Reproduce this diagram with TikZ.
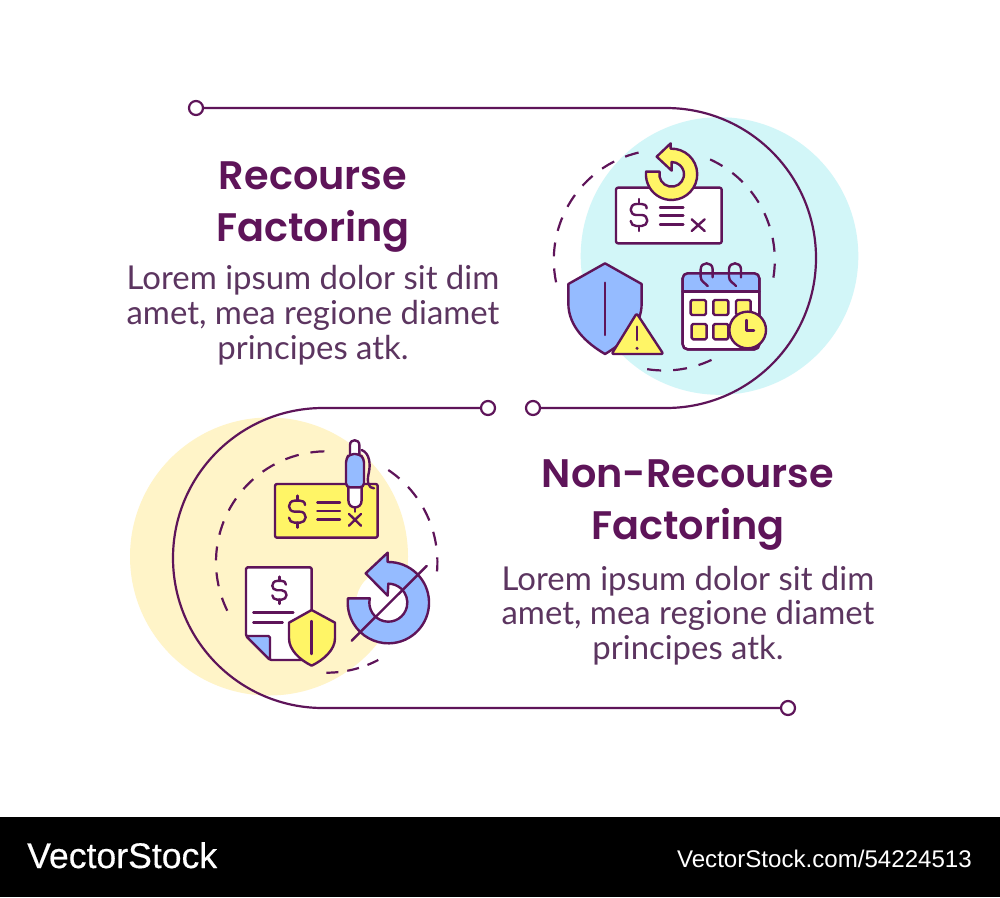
\documentclass[tikz,border=0pt]{standalone}
\usepackage{fontspec}
\usetikzlibrary{calc}
\setmainfont{Lato}
\newfontfamily\titlefont{Poppins}[UprightFont=* SemiBold]
\newfontfamily\footfont{Liberation Sans}
\definecolor{ink}{HTML}{5E1459}
\definecolor{bodyink}{HTML}{5C3560}
\definecolor{cyanbg}{HTML}{D2F6F8}
\definecolor{yellowbg}{HTML}{FFF4C8}
\definecolor{yel}{HTML}{FFF566}
\definecolor{blu}{HTML}{95BBFF}
\tikzset{
  x=1pt,y=-1pt,
  conn/.style={draw=ink,line width=2.2pt},
  endcircle/.style={circle,draw=ink,line width=2.2pt,fill=white,minimum size=14pt,inner sep=0pt},
  dashrun/.style={draw=ink,line width=2.2pt,dash pattern=on 14pt off 12pt},
  dashshort/.style={draw=ink,line width=2.2pt,dash pattern=on 12pt off 9pt},
  ic/.style={draw=ink,line width=2.4pt,line join=round,line cap=round},
  titletext/.style={text=ink,align=center,inner sep=0pt,font=\titlefont\fontsize{39.8}{52}\selectfont},
  bodytext/.style={text=bodyink,align=center,inner sep=0pt,font=\fontsize{32.9}{35}\selectfont},
}
\newcommand{\dollarmark}[3]{%
  \begin{scope}[shift={(#1,#2)},scale=#3]
    \draw[ic] (48,28) .. controls (48,18) and (40,15) .. (33,15) -- (17,15)
      .. controls (5,15) and (0,25) .. (0,32) .. controls (0,40) and (6,48) .. (17,48) -- (33,48)
      .. controls (44,48) and (50,56) .. (50,65) .. controls (50,74) and (42,81) .. (33,81) -- (17,81)
      .. controls (8,81) and (0,75) .. (0,66);
    \draw[ic] (25,0) -- (25,15) (25,81) -- (25,96);
  \end{scope}}
\newcommand{\binder}[1]{%
  \draw[ic] (#1+518,442) -- (#1+518,418) .. controls (#1+518,394) and (#1+482,394) .. (#1+482,418)
    -- (#1+482,440) .. controls (#1+482,455) and (#1+495,458) .. (#1+503,468);}
\begin{document}
\begin{tikzpicture}
\useasboundingbox (0,0) rectangle (1000,897);
\fill[white] (0,0) rectangle (1000,897);
\fill[black] (0,817) rectangle (1000,897);
% background discs
\fill[cyanbg] (719.5,256) circle[radius=138.8];
\fill[yellowbg] (269,556.5) circle[radius=139];
% dashed rings
\draw[dashrun] ($(664.3,260)+(256.5:110.5)$) arc[start angle=256.5,end angle=168,radius=110.5];
\draw[dashrun] ($(664.3,260)+(294.5:110.5)$) arc[start angle=294.5,end angle=371.2,radius=110.5];
\draw[dashrun] ($(664.3,260)+(64.7:110.5)$) arc[start angle=64.7,end angle=101,radius=110.5];
\draw[dashrun] ($(326.7,562)+(268.8:110.7)$) arc[start angle=268.8,end angle=150.8,radius=110.7];
\draw[dashrun] ($(326.7,562)+(303.8:110.7)$) arc[start angle=303.8,end angle=365.8,radius=110.7];
\draw[dashshort] ($(326.7,562)+(62.2:110.7)$) arc[start angle=62.2,end angle=90.3,radius=110.7];
% end circles and connectors
\node[endcircle] (a1) at (196,108) {};
\node[endcircle] (a2) at (533,408) {};
\node[endcircle] (b1) at (488,408) {};
\node[endcircle] (b2) at (788,708) {};
\draw[conn] (a1.east) -- (666,108) arc[start angle=-90,end angle=90,radius=150] -- (a2.east);
\draw[conn] (b1.west) -- (323,408) arc[start angle=270,end angle=90,radius=150] -- (b2.west);
% texts
\node[titletext,anchor=base] (t1a) at (313,189) {Recourse};
\node[titletext,anchor=base] (t1b) at (313,241) {Factoring};
\node[bodytext,anchor=base] (d1a) at (313,289) {Lorem ipsum dolor sit dim};
\node[bodytext,anchor=base] (d1b) at (313,324) {amet, mea regione diamet};
\node[bodytext,anchor=base] (d1c) at (313,359) {principes atk.};
\node[titletext,anchor=base] (t2a) at (688,487) {Non-Recourse};
\node[titletext,anchor=base] (t2b) at (688,539) {Factoring};
\node[bodytext,anchor=base] (d2a) at (688,590) {Lorem ipsum dolor sit dim};
\node[bodytext,anchor=base] (d2b) at (688,624) {amet, mea regione diamet};
\node[bodytext,anchor=base] (d2c) at (688,659) {principes atk.};
% icon group 1
\begin{scope}[shift={(540,130)},x=0.33333pt,y=-0.33333pt]
  \draw[ic,fill=white,rounded corners=2pt] (228,173) rectangle (545,340);
  \draw[ic,fill=yel] (318,125) -- (358,125) -- ($(395,133)+(192:37)$)
    arc[start angle=192,end angle=-90,radius=37] -- (395,122) -- (350,80) -- (392,40) -- (392,56)
    arc[start angle=268,end angle=546,radius=77] -- cycle;
  \dollarmark{272}{207}{1}
  \draw[ic] (360,232) -- (430,232) (360,257) -- (430,257) (360,283) -- (430,283);
  \draw[ic] (455,268) -- (494,303) (494,268) -- (455,303);
  % shield
  \draw[ic,fill=blu] (195,400) -- (305,462) -- (305,520) .. controls (305,590) and (250,640) .. (195,672)
    .. controls (140,640) and (85,590) .. (85,520) -- (85,462) -- cycle;
  \draw[ic] (195,458) -- (195,615);
  \draw[ic,fill=yel,rounded corners=2pt] (290,550) -- (370,672) -- (215,672) -- cycle;
  \draw[ic] (291,590) -- (291,630);
  \fill[ink] (291,655) circle[radius=5];
  % calendar
  \draw[ic,fill=white,rounded corners=5pt] (428,430) rectangle (658,658);
  \begin{scope}
    \clip[rounded corners=5pt] (428,430) rectangle (658,658);
    \fill[blu] (428,430) rectangle (658,485);
  \end{scope}
  \draw[ic,rounded corners=5pt] (428,430) rectangle (658,658);
  \draw[ic] (428,485) -- (658,485);
  \binder{0}
  \binder{85}
  \draw[ic,fill=yel,rounded corners=1.5pt] (452,510) rectangle (498,555);
  \draw[ic,fill=yel,rounded corners=1.5pt] (520,510) rectangle (565,555);
  \draw[ic,fill=yel,rounded corners=1.5pt] (588,510) rectangle (632,555);
  \draw[ic,fill=yel,rounded corners=1.5pt] (455,582) rectangle (500,628);
  \draw[ic,fill=yel,rounded corners=1.5pt] (520,582) rectangle (565,628);
  \draw[ic,fill=yel] (623,600) circle[radius=55];
  \draw[ic] (620,570) -- (620,602) -- (642,602);
\end{scope}
% icon group 2
\begin{scope}[shift={(210,430)},x=0.33333pt,y=-0.33333pt]
  \draw[ic,fill=yel,rounded corners=2pt] (195,162) rectangle (503,323);
  \dollarmark{237}{197}{1}
  \draw[ic] (322,218) -- (390,218) (322,243) -- (390,243) (322,268) -- (390,268);
  \draw[ic] (417,252) -- (453,287) (453,252) -- (417,287);
  % pen
  \draw[ic] (455,60) .. controls (480,70) and (482,105) .. (476,130) .. controls (470,155) and (475,175) .. (492,175);
  \draw[ic,fill=white] (420,72) -- (420,45) .. controls (420,26) and (448,26) .. (448,45) -- (448,72);
  \draw[ic,fill=white] (415,172) -- (415,210) .. controls (415,226) and (425,232) .. (435,232)
    .. controls (445,232) and (455,226) .. (455,210) -- (455,172);
  \draw[ic,fill=blu,rounded corners=4pt] (408,172) -- (408,85) -- (420,72) -- (448,72) -- (462,85) -- (462,172) -- cycle;
  \draw[ic] (435,232) -- (435,245);
  % document
  \draw[ic,fill=white,rounded corners=1.5pt] (108,412) -- (305,412) -- (305,690) -- (180,690) -- (108,618) -- cycle;
  \draw[ic,fill=blu,rounded corners=1.5pt] (108,618) -- (180,618) -- (180,690) -- cycle;
  \dollarmark{187}{440}{0.85}
  \draw[ic] (130,547) -- (250,547) (130,577) -- (218,577);
  \draw[ic,fill=yel] (305,540) -- (375,578) -- (375,625) .. controls (375,660) and (340,690) .. (305,707)
    .. controls (270,690) and (237,660) .. (237,625) -- (237,578) -- cycle;
  \draw[ic] (305,573) -- (305,672);
  % crossed-out arrow
  \fill[white] (535,518) circle[radius=96];
  \draw[ic,fill=blu] (415,505) -- (478,505) -- ($(535,518)+(193:57)$)
    arc[start angle=193,end angle=-90,radius=57] -- (533,497) -- (467,430) -- (533,368) -- (533,396)
    arc[start angle=269,end angle=546,radius=122] -- cycle;
  \draw[ic] (425,632) -- (650,408);
\end{scope}
% footer
\node[anchor=base west,inner sep=0pt,text=white,font=\footfont\addfontfeature{FakeBold=0.4}\fontsize{35.6}{36}\selectfont] (logo) at (27,868) {VectorStock};
\node[anchor=base east,inner sep=0pt,text=white,font=\footfont\fontsize{24.1}{25}\selectfont] (ref) at (972,867) {VectorStock.com/54224513};
\end{tikzpicture}
\end{document}
